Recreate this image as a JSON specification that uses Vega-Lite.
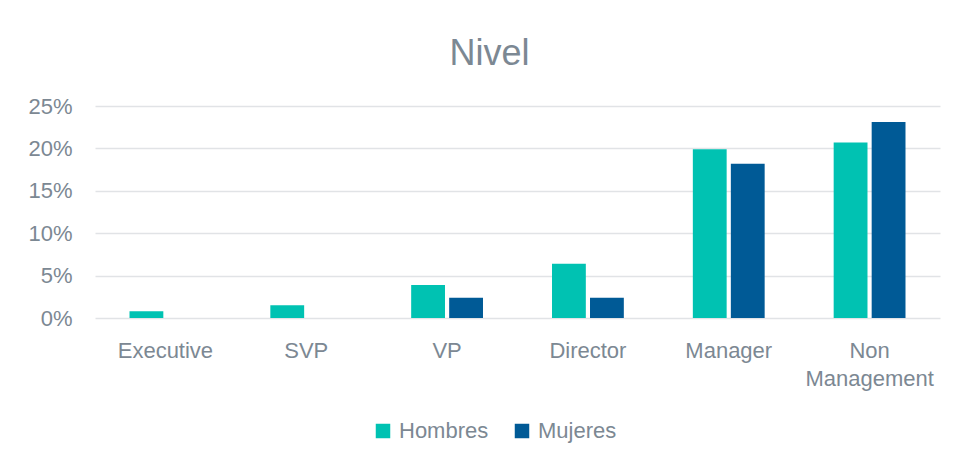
{
  "$schema": "https://vega.github.io/schema/vega-lite/v6.json",
  "width": 845,
  "height": 212,
  "autosize": {"type": "none"},
  "padding": {"left": 95, "top": 106, "right": 17, "bottom": 150},
  "background": "white",
  "title": {"text": "Nivel", "fontSize": 36, "font": "Liberation Sans", "fontWeight": "normal", "color": "#7C8893", "offset": 22, "anchor": "middle", "dx": -28},
  "data": {"values": [
    {"nivel": "Executive", "genero": "Hombres", "valor": 0.008},
    {"nivel": "Executive", "genero": "Mujeres", "valor": 0.0},
    {"nivel": "SVP", "genero": "Hombres", "valor": 0.015},
    {"nivel": "SVP", "genero": "Mujeres", "valor": 0.0},
    {"nivel": "VP", "genero": "Hombres", "valor": 0.039},
    {"nivel": "VP", "genero": "Mujeres", "valor": 0.024},
    {"nivel": "Director", "genero": "Hombres", "valor": 0.064},
    {"nivel": "Director", "genero": "Mujeres", "valor": 0.024},
    {"nivel": "Manager", "genero": "Hombres", "valor": 0.199},
    {"nivel": "Manager", "genero": "Mujeres", "valor": 0.182},
    {"nivel": "Non Management", "genero": "Hombres", "valor": 0.207},
    {"nivel": "Non Management", "genero": "Mujeres", "valor": 0.231}
  ]},
  "mark": {"type": "bar"},
  "encoding": {
    "x": {
      "field": "nivel", "type": "nominal", "sort": null,
      "scale": {"paddingInner": 0.49, "paddingOuter": 0.245},
      "axis": {
        "title": null, "labelAngle": 0, "domain": false, "ticks": false,
        "labelFont": "Liberation Sans", "labelFontSize": 22, "labelColor": "#7C8893",
        "labelPadding": 22, "labelLineHeight": 28,
        "labelExpr": "datum.label == 'Non Management' ? ['Non', 'Management'] : datum.label"
      }
    },
    "xOffset": {"field": "genero", "type": "nominal", "scale": {"paddingInner": 0.11}},
    "y": {
      "field": "valor", "type": "quantitative",
      "scale": {"domain": [0, 0.25]},
      "axis": {
        "title": null, "format": ".0%", "values": [0, 0.05, 0.1, 0.15, 0.2, 0.25],
        "domain": false, "ticks": false, "labelPadding": 23,
        "labelFont": "Liberation Sans", "labelFontSize": 22, "labelColor": "#7C8893",
        "gridColor": "#e1e3e6", "gridWidth": 1.5
      }
    },
    "color": {
      "field": "genero", "type": "nominal",
      "scale": {"domain": ["Hombres", "Mujeres"], "range": ["#00C2B2", "#005A96"]},
      "legend": {
        "title": null, "orient": "none", "direction": "horizontal",
        "legendX": 277, "legendY": 314,
        "symbolType": "square", "symbolSize": 210, "symbolStrokeWidth": 0,
        "labelFont": "Liberation Sans", "labelFontSize": 22, "labelColor": "#7C8893",
        "columnPadding": 22, "labelOffset": 5
      }
    }
  },
  "config": {"view": {"stroke": null}}
}
